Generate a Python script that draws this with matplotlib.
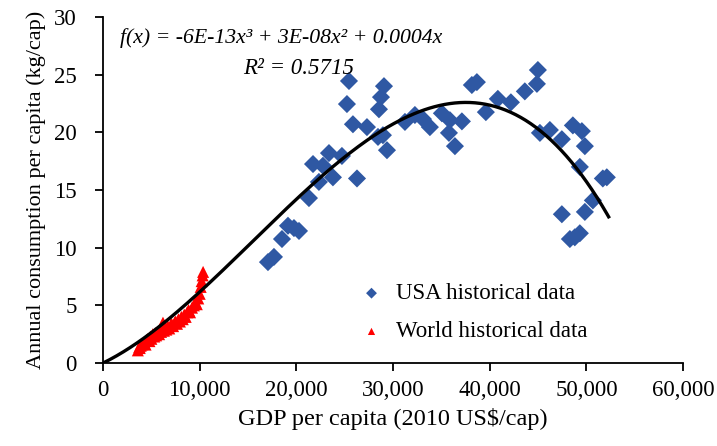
import numpy as np
import matplotlib
matplotlib.use("Agg")
import matplotlib.pyplot as plt

plt.rcParams['font.family'] = ['Liberation Serif', 'DejaVu Serif']

# USA historical data (GDP per capita, kg per capita)
usa_gdp = [17060, 17680, 18510, 19130, 19750, 20270, 21300, 21720, 22330, 22750,
           23370, 23780, 24710, 25230, 25440, 25850, 26270, 27300, 28440, 28950,
           29370, 28540, 28750, 29060, 31230, 32260, 33090, 33810, 35050, 35880,
           37120, 35780, 36400, 38150, 38670, 39600, 40840, 42190, 43630, 44880,
           44980, 45190, 46220, 47460, 48600, 49530, 49840, 49320, 51700, 52110,
           50670, 49840, 47460, 48290, 49320, 48800]
usa_cons = [8.75, 9.2, 10.75, 11.9, 11.7, 11.45, 14.3, 17.25, 15.7, 17.1,
            18.2, 16.1, 17.95, 22.45, 24.45, 20.7, 16.0, 20.45, 19.6, 19.75,
            18.45, 22.0, 23.05, 24.0, 20.9, 21.5, 21.15, 20.45, 21.65, 21.05,
            20.95, 19.95, 18.8, 24.1, 24.35, 21.75, 22.9, 22.6, 23.55, 24.2,
            25.4, 19.95, 20.2, 19.4, 20.6, 20.1, 18.8, 17.0, 16.0, 16.1,
            14.1, 13.1, 12.9, 10.75, 11.25, 10.9]

# World historical data
world_gdp = [3600, 3750, 3800, 3900, 4000, 4150, 4250, 4400, 4500, 4650, 4800, 4900,
             5000, 5150, 5300, 5400, 5500, 5650, 5800, 5900, 6000, 6150,
             6200, 6300, 6400, 6550, 6700, 6850, 7000, 7100, 7250, 7400,
             7500, 7650, 7800, 7950, 8100, 8250, 8400, 8550, 8700, 8850,
             9000, 9200, 9400, 9550, 9700, 9850, 10000, 10100, 10200, 10300, 10350]
world_cons = [1.1, 1.4, 1.3, 1.5, 1.6, 1.7, 1.8, 1.6, 2.0, 2.1, 1.9, 2.3,
              2.1, 2.5, 2.3, 2.6, 2.4, 2.7, 2.5, 2.9, 2.7, 3.0,
              3.5, 2.8, 3.1, 2.9, 3.2, 3.0, 3.3, 3.4, 3.2, 3.5,
              3.6, 3.4, 3.8, 3.6, 4.0, 3.8, 4.2, 4.0, 4.4, 4.6,
              4.4, 4.8, 5.0, 5.3, 5.1, 5.6, 6.0, 6.6, 7.1, 7.6, 7.9]

# cubic trendline through origin (coefficients for x^3, x^2, x, 1)
trend_coef = [-5.63e-13, 2.623e-8, 4.105e-4, 0.0]
trend_range = [0, 52300]

fig = plt.figure(figsize=(7.17, 4.46), dpi=100)
ax = fig.add_axes([0.1437, 0.186, 0.809, 0.776])

ax.scatter(usa_gdp, usa_cons, marker='D', s=85, color='#2F58A3',
           edgecolors='none', label='USA historical data', zorder=3)
ax.scatter(world_gdp, world_cons, marker='^', s=75, color='#FF0000',
           edgecolors='none', label='World historical data', zorder=3)

xs = np.linspace(trend_range[0], trend_range[1], 300)
ax.plot(xs, np.polyval(trend_coef, xs), color='black', lw=2.4, zorder=4)

ax.set_xlim(0, 60000)
ax.set_ylim(0, 30)
ax.set_xticks(range(0, 60001, 10000))
ax.set_xticklabels(['0', '10,000', '20,000', '30,000', '40,000', '50,000', '60,000'])
ax.set_yticks(range(0, 31, 5))

for s in ['top', 'right']:
    ax.spines[s].set_visible(False)
for s in ['left', 'bottom']:
    ax.spines[s].set_linewidth(1.3)
ax.tick_params(direction='out', length=6, width=1.3, labelsize=16.5)
ax.tick_params(axis='y', pad=13)
ax.tick_params(axis='x', pad=6)

ax.set_xlabel('GDP per capita (2010 US$/cap)', fontsize=17.5, labelpad=5)
ax.set_ylabel('Annual consumption per capita (kg/cap)', fontsize=16, labelpad=6)

ax.text(0.029, 0.94, 'f(x) = -6E-13x³ + 3E-08x² + 0.0004x',
        transform=ax.transAxes, fontsize=15.7, style='italic', va='center')
ax.text(0.241, 0.852, 'R² = 0.5715', transform=ax.transAxes,
        fontsize=16.5, style='italic', va='center')

ax.legend(loc='lower right', bbox_to_anchor=(0.87, 0.0), frameon=False,
          fontsize=16.5, handletextpad=0.05, labelspacing=0.75, markerscale=0.6)

fig.savefig('out.png', dpi=100)
